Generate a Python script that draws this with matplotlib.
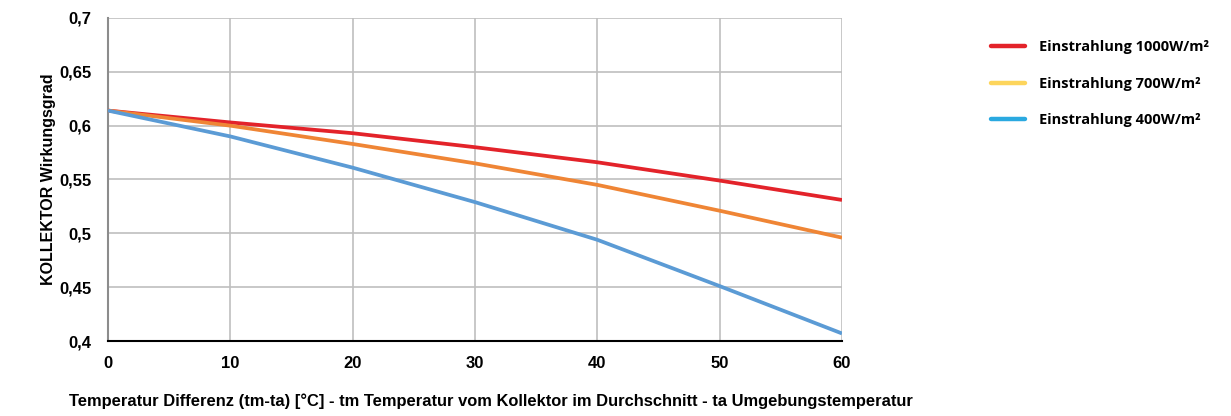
import matplotlib
matplotlib.use("Agg")
import matplotlib.pyplot as plt
from matplotlib.lines import Line2D

# data
temp_diff = [0, 10, 20, 30, 40, 50, 60]
eta_1000 = [0.614, 0.603, 0.593, 0.580, 0.566, 0.549, 0.531]
eta_700 = [0.614, 0.600, 0.583, 0.565, 0.545, 0.521, 0.496]
eta_400 = [0.614, 0.590, 0.561, 0.529, 0.494, 0.451, 0.407]
y_ticks = [0.4, 0.45, 0.5, 0.55, 0.6, 0.65, 0.7]
y_labels = ["0,4", "0,45", "0,5", "0,55", "0,6", "0,65", "0,7"]
x_ticks = [0, 10, 20, 30, 40, 50, 60]
legend_labels = ["Einstrahlung 1000W/m²", "Einstrahlung 700W/m²", "Einstrahlung 400W/m²"]

line_colors = ["#e3232a", "#ef8535", "#5b9bd5"]
legend_colors = ["#e3232a", "#fdd55c", "#2aa9e0"]

narrow = ["Liberation Sans Narrow", "Liberation Sans", "DejaVu Sans"]

fig = plt.figure(figsize=(12.31, 4.16), dpi=100)
ax = fig.add_axes([108 / 1231, 1 - 341 / 416, (842 - 108) / 1231, (341 - 18) / 416])

for ys, c in zip([eta_1000, eta_700, eta_400], line_colors):
    ax.plot(temp_diff, ys, color=c, lw=2.7, solid_capstyle="butt", zorder=3)

ax.set_xlim(0, 60)
ax.set_ylim(0.4, 0.7)
ax.set_xticks(x_ticks)
ax.set_yticks(y_ticks)
ax.set_yticklabels(y_labels)
ax.grid(True, color="#bfbfbf", lw=1.2)
ax.set_axisbelow(True)
ax.tick_params(length=0)
for lab in ax.get_xticklabels() + ax.get_yticklabels():
    lab.set_fontfamily(narrow)
    lab.set_fontweight("bold")
    lab.set_fontsize(12)
ax.tick_params(axis="x", pad=11)
ax.tick_params(axis="y", pad=12)

for side in ["top", "right"]:
    ax.spines[side].set_visible(False)
ax.spines["left"].set_color("#8c8c8c")
ax.spines["left"].set_linewidth(1.5)
ax.spines["bottom"].set_color("black")
ax.spines["bottom"].set_linewidth(1.5)

ax.set_ylabel("KOLLEKTOR Wirkungsgrad", fontfamily=narrow, fontweight="bold", fontsize=11.5)
ax.yaxis.set_label_coords(-52 / 734, 0.5)
ax.set_xlabel("Temperatur Differenz (tm-ta) [°C] - tm Temperatur vom Kollektor im Durchschnitt - ta Umgebungstemperatur",
              fontfamily=narrow, fontweight="bold", fontsize=11.9)
ax.xaxis.set_label_coords((491 - 108) / 734, -52 / 323)

handles = [Line2D([], [], color=c, lw=3.2, solid_capstyle="round") for c in legend_colors]
fig.legend(handles, legend_labels, loc="upper left", bbox_to_anchor=(978 / 1231, 1 - 27 / 416),
           frameon=False, handlelength=2.3, handletextpad=1.0, labelspacing=1.55,
           prop={"family": "Open Sans", "weight": "bold", "size": 10.5})

fig.savefig("out.png", dpi=100)
